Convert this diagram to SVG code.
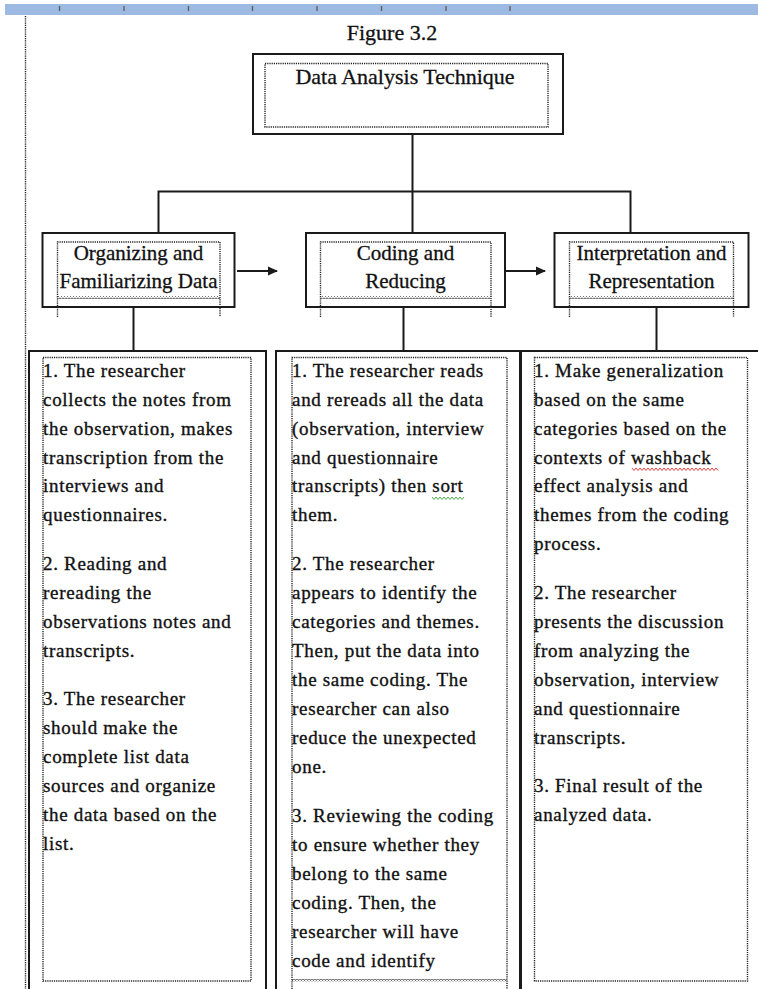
<svg xmlns="http://www.w3.org/2000/svg" width="758" height="989" viewBox="0 0 758 989">
<style>
.box{fill:#fff;stroke:#1a1a1a;stroke-width:2}
.dot{fill:none;stroke:#222;stroke-width:1.4;stroke-dasharray:1.2 1}
.ln{fill:none;stroke:#1a1a1a;stroke-width:2}
.hd{font-family:"Liberation Serif","Times New Roman",serif;font-size:21px;fill:#111;stroke:#111;stroke-width:0.3;text-anchor:middle}
.tx{font-family:"Liberation Serif","Times New Roman",serif;font-size:19px;letter-spacing:0.7px;fill:#111;stroke:#111;stroke-width:0.35}
.tick{stroke:#606060;stroke-width:1.4}
</style>
<defs>
<pattern id="wave" width="3" height="3" patternUnits="userSpaceOnUse">
<polyline points="0,0.5 1.5,2.5 3,0.5" fill="none" stroke="#333" stroke-width="0.9"/>
</pattern>
<marker id="arr" viewBox="0 0 10 10" refX="9" refY="5" markerWidth="10" markerHeight="10" markerUnits="userSpaceOnUse" orient="auto">
<path d="M0,0.5 L10,5 L0,9.5 Z" fill="#1a1a1a"/>
</marker>
</defs>
<rect x="5" y="4" width="753" height="11" fill="#9dbbe2"/>
<g class="tick">
<line x1="59.5" y1="6" x2="59.5" y2="11"/><line x1="124" y1="6" x2="124" y2="11"/><line x1="188.5" y1="6" x2="188.5" y2="11"/><line x1="252.5" y1="6" x2="252.5" y2="11"/><line x1="317" y1="6" x2="317" y2="11"/><line x1="381.5" y1="6" x2="381.5" y2="11"/><line x1="446" y1="6" x2="446" y2="11"/><line x1="510" y1="6" x2="510" y2="11"/>
</g>
<line x1="25.5" y1="16" x2="25.5" y2="989" class="dot" stroke-width="1.8"/>
<text x="392" y="40" class="hd" style="font-size:22px">Figure 3.2</text>

<g id="connectors">
<path class="ln" d="M412.5,135 V233 M158.5,233 V191.5 H630.5 V233"/>
<line class="ln" x1="237" y1="271" x2="277" y2="271" marker-end="url(#arr)"/>
<line class="ln" x1="506" y1="271" x2="545" y2="271" marker-end="url(#arr)"/>
<path class="ln" d="M133.5,307 V351 M403.5,307 V351 M656.5,307 V351"/>
</g>

<g id="title">
<rect class="box" x="253" y="54" width="310" height="80"/>
<rect class="dot" x="265" y="63.5" width="283" height="63.5"/>
<text x="405" y="84" class="hd" style="font-size:22px">Data Analysis Technique</text>
</g>

<g id="organizing">
<rect class="box" x="42.5" y="233" width="192" height="74"/>
<path class="dot" d="M57.5,317 V242 H220 V317"/>
<rect x="57.5" y="296" width="162.5" height="3" fill="url(#wave)"/>
<text class="hd" x="138.5" y="260">Organizing and</text>
<text class="hd" x="138.5" y="288">Familiarizing Data</text>
</g>

<g id="coding">
<rect class="box" x="306" y="233" width="199" height="74"/>
<path class="dot" d="M320.5,317 V242 H491 V317"/>
<rect x="320.5" y="296" width="170.5" height="3" fill="url(#wave)"/>
<text class="hd" x="405.5" y="260">Coding and</text>
<text class="hd" x="405.5" y="288">Reducing</text>
</g>

<g id="interpretation">
<rect class="box" x="554.5" y="233" width="194" height="74"/>
<path class="dot" d="M569.5,317 V242 H733.5 V317"/>
<rect x="569.5" y="296" width="164" height="3" fill="url(#wave)"/>
<text class="hd" x="651.5" y="260">Interpretation and</text>
<text class="hd" x="651.5" y="288">Representation</text>
</g>

<g id="col1">
<rect class="box" x="29" y="351" width="237" height="660"/>
<rect class="dot" x="43" y="357.5" width="208" height="623.5"/>
<text class="tx" x="43">
<tspan x="43" y="377">1. The researcher</tspan>
<tspan x="43" y="406">collects the notes from</tspan>
<tspan x="43" y="435">the observation, makes</tspan>
<tspan x="43" y="464">transcription from the</tspan>
<tspan x="43" y="492">interviews and</tspan>
<tspan x="43" y="521">questionnaires.</tspan>
<tspan x="43" y="570">2. Reading and</tspan>
<tspan x="43" y="599">rereading the</tspan>
<tspan x="43" y="628">observations notes and</tspan>
<tspan x="43" y="657">transcripts.</tspan>
<tspan x="43" y="705">3. The researcher</tspan>
<tspan x="43" y="734">should make the</tspan>
<tspan x="43" y="763">complete list data</tspan>
<tspan x="43" y="792">sources and organize</tspan>
<tspan x="43" y="821">the data based on the</tspan>
<tspan x="43" y="850">list.</tspan>
</text>
</g>

<g id="col2">
<rect class="box" x="276" y="351" width="244" height="660"/>
<path class="dot" d="M292,989 V357.5 H507 V989"/>
<rect x="292" y="979" width="215" height="3" fill="url(#wave)"/>
<text class="tx" x="292">
<tspan x="292" y="377">1. The researcher reads</tspan>
<tspan x="292" y="406">and rereads all  the data</tspan>
<tspan x="292" y="435">(observation, interview</tspan>
<tspan x="292" y="464">and questionnaire</tspan>
<tspan x="292" y="492">transcripts) then sort</tspan>
<tspan x="292" y="521">them.</tspan>
<tspan x="292" y="570">2. The researcher</tspan>
<tspan x="292" y="599">appears to identify the</tspan>
<tspan x="292" y="628">categories and themes.</tspan>
<tspan x="292" y="657">Then, put the data into</tspan>
<tspan x="292" y="686">the same coding. The</tspan>
<tspan x="292" y="715">researcher can also</tspan>
<tspan x="292" y="744">reduce the unexpected</tspan>
<tspan x="292" y="773">one.</tspan>
<tspan x="292" y="822">3. Reviewing the coding</tspan>
<tspan x="292" y="851">to ensure whether they</tspan>
<tspan x="292" y="880">belong to the same</tspan>
<tspan x="292" y="909">coding. Then, the</tspan>
<tspan x="292" y="938">researcher will have</tspan>
<tspan x="292" y="967">code and identify</tspan>
</text>
<polyline points="432,497 434,499.5 436,497 438,499.5 440,497 442,499.5 444,497 446,499.5 448,497 450,499.5 452,497 454,499.5 456,497 458,499.5 460,497 462,499.5 464,497" fill="none" stroke="#3aa33a" stroke-width="0.9"/>
</g>

<g id="col3">
<rect class="box" x="521" y="351" width="250" height="660"/>
<rect class="dot" x="534.5" y="357.5" width="213" height="623.5"/>
<text class="tx" x="534">
<tspan x="534" y="377">1. Make generalization</tspan>
<tspan x="534" y="406">based on the same</tspan>
<tspan x="534" y="435">categories based on the</tspan>
<tspan x="534" y="464">contexts of washback</tspan>
<tspan x="534" y="492">effect analysis and</tspan>
<tspan x="534" y="521">themes from the coding</tspan>
<tspan x="534" y="550">process.</tspan>
<tspan x="534" y="599">2. The researcher</tspan>
<tspan x="534" y="628">presents the discussion</tspan>
<tspan x="534" y="657">from analyzing the</tspan>
<tspan x="534" y="686">observation, interview</tspan>
<tspan x="534" y="715">and questionnaire</tspan>
<tspan x="534" y="744">transcripts.</tspan>
<tspan x="534" y="792">3. Final result of the</tspan>
<tspan x="534" y="821">analyzed data.</tspan>
</text>
<polyline points="632,468 634,470.5 636,468 638,470.5 640,468 642,470.5 644,468 646,470.5 648,468 650,470.5 652,468 654,470.5 656,468 658,470.5 660,468 662,470.5 664,468 666,470.5 668,468 670,470.5 672,468 674,470.5 676,468 678,470.5 680,468 682,470.5 684,468 686,470.5 688,468 690,470.5 692,468 694,470.5 696,468 698,470.5 700,468 702,470.5 704,468 706,470.5 708,468 710,470.5 712,468 714,470.5 716,468 718,470.5" fill="none" stroke="#e03030" stroke-width="0.9"/>
</g>
</svg>
